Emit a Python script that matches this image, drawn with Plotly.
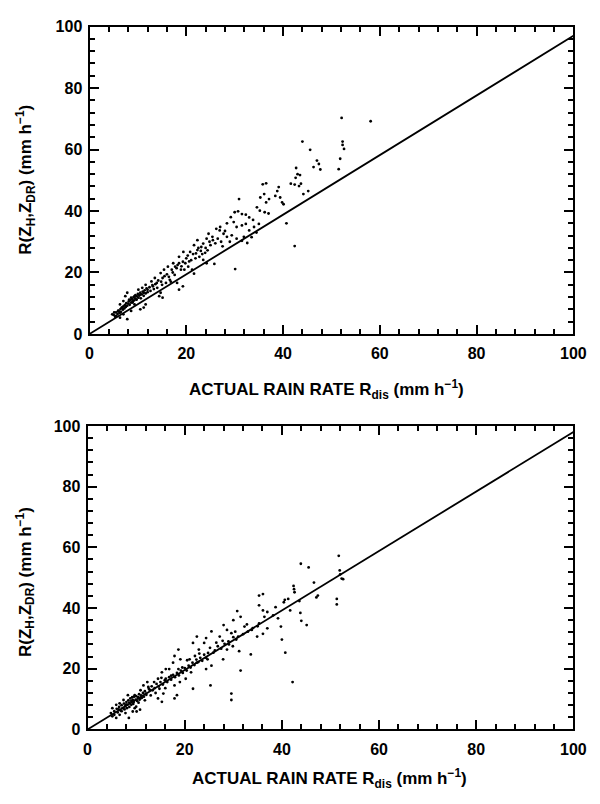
import plotly.graph_objects as go

# ---------------- data ----------------
TICK_START = 0
TICK_STEP = 20
MINOR_STEP = 4

LINE_X = [0, 100]
LINE_TOP_Y = [0, 97]
LINE_BOT_Y = [0, 98]

# Top panel scatter
TOP_X_LOW = [5.0, 5.3, 5.5, 5.8, 6.0, 6.2, 6.4, 6.5, 6.7, 6.9, 7.0, 7.2, 7.3, 7.5, 7.6, 7.8, 8.0, 8.1, 8.3, 8.4,
             8.6, 8.8, 8.9, 9.1, 9.2, 9.4, 9.5, 9.7, 9.8, 10.0, 10.1, 10.3, 10.5, 10.6, 10.8, 11.0, 11.2, 11.4, 11.6, 11.8,
             12.0, 6.3, 5.5, 7.0, 8.6, 7.8, 9.3, 10.5, 11.2, 11.6, 4.7, 5.1, 6.3, 5.9, 6.7, 6.3, 7.0, 8.9, 8.2, 7.4,
             7.8, 8.6, 9.7, 9.3, 10.5, 11.2, 12.0, 10.1, 10.9, 11.6]
TOP_Y_LOW = [6.2, 5.6, 7.0, 6.5, 7.6, 6.9, 8.1, 7.2, 8.6, 7.9, 9.0, 8.3, 9.4, 8.8, 10.0, 9.2, 9.9, 10.6, 9.5, 11.0,
             10.2, 11.4, 10.6, 12.0, 10.9, 11.6, 12.6, 11.2, 12.2, 13.0, 11.8, 12.5, 13.4, 11.6, 12.9, 13.8, 12.4, 14.2, 13.2, 14.8,
             13.6, 5.3, 5.9, 6.4, 7.5, 4.8, 9.6, 8.0, 8.6, 9.6, 6.4, 7.0, 7.0, 7.5, 8.6, 9.6, 10.7, 10.2, 11.2, 12.3,
             13.4, 11.8, 11.2, 12.3, 12.8, 13.4, 14.4, 14.4, 15.0, 16.0]

TOP_X_MID = [12.8, 13.1, 13.5, 13.9, 14.4, 14.7, 15.1, 14.7, 15.1, 15.4, 15.8, 16.2, 16.6, 17.0, 17.3, 17.7, 18.1, 18.5, 18.5, 18.5,
             18.9, 19.3, 19.3, 19.4, 19.6, 20.0, 20.4, 20.8, 21.2, 21.6, 21.6, 21.9, 22.3, 22.3, 22.7, 23.1, 23.5, 23.5, 23.9, 24.2,
             24.2, 24.6, 25.0, 25.4, 25.8, 13.0, 13.6, 14.2, 14.8, 15.5, 16.0, 16.4, 17.2, 17.6, 18.0, 18.2, 19.0, 19.8, 20.3, 20.6,
             21.0, 21.4, 22.0, 22.5, 23.0, 23.3, 24.0, 24.4, 24.8, 12.4, 12.6, 13.3, 14.0, 15.0, 16.8]
TOP_Y_MID = [17.1, 15.5, 18.2, 16.6, 12.3, 13.4, 11.8, 19.8, 18.2, 20.9, 16.6, 21.9, 17.6, 20.9, 23.0, 21.9, 16.6, 14.4, 23.0, 25.1,
             20.9, 15.5, 23.5, 26.7, 20.9, 24.6, 21.9, 26.7, 20.9, 19.6, 28.9, 24.6, 30.5, 27.3, 25.1, 28.3, 29.4, 24.1, 26.4, 31.0,
             23.0, 32.6, 28.9, 31.6, 22.8, 15.9, 16.2, 17.4, 17.0, 18.8, 19.4, 18.6, 20.0, 19.2, 21.4, 22.4, 22.0, 23.0, 25.5, 23.6,
             24.0, 26.0, 26.2, 28.0, 27.0, 26.0, 28.0, 27.2, 30.0, 15.2, 14.0, 14.6, 15.0, 16.0, 17.0]

TOP_X_HIGH = [26.2, 26.9, 27.7, 28.4, 29.4, 30.4, 31.5, 32.6, 31.9, 30.1, 29.2, 28.4, 29.8, 30.4, 31.5, 32.3, 33.0, 34.0, 35.0, 30.0,
              30.7, 31.5, 32.3, 33.0, 33.8, 30.9, 26.5, 27.2, 27.0, 28.0, 29.0, 33.5, 34.5, 26.0, 27.5, 25.5,
              36.1, 35.3, 37.1, 36.5, 34.6, 35.2, 36.2, 37.0, 35.8, 36.5, 39.1, 38.8, 38.4, 39.4, 39.8, 40.1, 40.7, 42.4, 41.6, 42.4,
              43.3, 43.7, 44.2, 45.2, 42.7, 43.0, 43.5, 42.6, 47.0, 47.4, 46.3, 47.7, 51.5, 51.8, 45.6, 52.3, 52.3, 52.6, 44.0, 52.1,
              58.1]
TOP_Y_HIGH = [34.2, 33.7, 32.6, 31.6, 32.1, 31.0, 30.3, 29.6, 31.6, 21.1, 38.0, 36.0, 36.4, 34.8, 35.3, 35.8, 33.7, 34.8, 35.8, 39.6,
              39.9, 39.0, 38.8, 37.9, 37.1, 43.9, 31.0, 30.0, 34.8, 33.5, 30.0, 31.5, 33.0, 29.5, 28.5, 30.5,
              45.5, 44.4, 43.9, 42.8, 41.2, 40.1, 39.6, 39.2, 48.7, 49.0, 47.8, 46.5, 44.9, 44.4, 42.8, 42.2, 36.0, 28.6, 48.9, 48.6,
              48.1, 48.9, 45.5, 46.5, 54.0, 52.0, 51.7, 50.8, 56.4, 55.3, 54.3, 53.5, 53.6, 57.0, 59.9, 62.6, 61.5, 60.2, 62.6, 70.3,
              69.2]

# Bottom panel scatter
BOT_X_LOW = [5.1, 5.9, 6.6, 7.4, 4.8, 5.5, 6.6, 5.9, 5.1, 7.8, 8.1, 8.5, 9.3, 10.0, 10.8, 12.3, 11.5, 12.6, 10.9, 12.0,
             9.7, 10.9, 9.3, 8.3, 9.0, 9.7, 10.1, 5.5, 6.0, 6.2, 6.5, 6.8, 7.0, 7.2, 7.5, 7.7, 8.0, 8.2, 8.4, 8.6,
             8.8, 9.0, 9.2, 9.5, 9.6, 9.9, 10.0, 10.2, 10.4, 10.6, 10.7, 11.0, 11.2, 11.4, 11.6, 11.8, 12.1, 7.0, 7.6, 8.6,
             9.4, 6.4, 7.9, 10.5, 11.8]
BOT_Y_LOW = [7.0, 8.1, 8.6, 9.7, 5.4, 4.8, 4.8, 3.8, 4.3, 5.4, 7.0, 3.8, 5.9, 7.5, 6.5, 15.6, 14.5, 13.4, 12.9, 11.8,
             11.3, 10.2, 9.7, 11.3, 8.1, 7.0, 5.9, 6.0, 6.8, 5.6, 7.4, 6.2, 8.0, 7.0, 8.5, 7.6, 9.0, 8.2, 9.6, 8.8,
             10.2, 9.4, 10.6, 9.0, 10.8, 9.8, 11.0, 9.4, 10.6, 11.6, 9.8, 11.2, 10.4, 12.0, 10.8, 12.6, 11.4, 6.0, 6.6, 7.4,
             8.4, 6.6, 8.2, 8.8, 9.6]

BOT_X_MID = [16.1, 15.3, 14.5, 13.7, 14.8, 13.4, 14.5, 15.3, 15.6, 18.7, 17.9, 19.1, 17.6, 18.7, 16.8, 17.2, 17.9, 16.1, 18.4, 17.9,
             22.5, 21.7, 22.9, 22.1, 21.0, 22.5, 21.3, 21.7, 20.2, 19.5, 25.5, 24.4, 24.0, 25.2, 25.9, 24.7, 25.5, 24.4, 25.3,
             12.8, 13.2, 13.8, 14.2, 14.6, 15.0, 15.5, 15.9, 16.4, 16.8, 17.2, 17.6, 18.0, 18.4, 18.8, 19.2, 19.6, 20.0, 20.4, 20.8,
             21.2, 21.6, 22.0, 22.4, 22.8, 23.2, 23.6, 24.0, 24.4, 24.8, 13.0, 14.0, 16.0, 19.0, 20.5, 23.0, 12.5, 15.2]
BOT_Y_MID = [19.9, 18.8, 16.7, 15.6, 13.4, 12.9, 10.2, 9.1, 11.8, 26.3, 24.2, 23.1, 22.0, 19.9, 19.9, 17.7, 14.5, 16.7, 11.3, 10.2,
             30.6, 28.5, 26.3, 24.2, 23.1, 22.0, 18.8, 13.4, 16.7, 20.4, 32.3, 30.1, 28.5, 26.9, 25.3, 23.1, 21.0, 19.9, 14.5,
             13.0, 14.2, 13.6, 15.0, 14.2, 15.6, 14.8, 16.2, 15.6, 17.2, 16.4, 18.0, 17.2, 18.6, 17.8, 19.4, 18.6, 20.2, 19.4, 21.0,
             20.4, 22.0, 21.2, 23.0, 22.2, 23.6, 22.6, 24.6, 23.6, 25.2, 11.2, 12.0, 13.6, 15.6, 22.8, 25.0, 14.0, 17.0]

BOT_X_HIGH = [28.0, 28.7, 29.6, 30.6, 29.1, 27.9, 28.7, 27.2, 29.9, 31.2, 30.8, 30.0, 31.5, 32.3, 33.8, 33.6, 31.5, 29.6, 29.6,
              36.1, 35.3, 35.3, 36.1, 37.0, 36.4, 35.3, 37.0, 36.1, 34.9, 38.7, 38.2, 39.2, 39.8, 40.0, 40.7,
              26.2, 26.8, 27.5, 28.2, 29.0, 30.0, 31.0, 32.0, 33.0, 34.0, 35.0, 26.5, 27.8, 30.4, 32.8,
              40.6, 41.3, 40.4, 41.7, 43.6, 43.8, 44.0, 45.1, 42.4, 42.5, 42.6, 46.6, 47.4, 47.1, 51.3, 51.3, 51.9, 52.0, 52.3, 52.6,
              43.9, 45.5, 51.7, 42.2]
BOT_Y_HIGH = [34.4, 32.8, 31.7, 29.6, 28.0, 23.1, 26.3, 30.6, 27.4, 25.8, 39.0, 36.0, 37.1, 33.9, 32.8, 24.7, 19.4, 11.8, 9.7,
              44.6, 44.1, 40.9, 39.2, 38.7, 37.1, 34.9, 33.3, 31.5, 30.6, 40.3, 37.6, 36.6, 33.9, 29.6, 25.3,
              26.0, 27.4, 26.6, 28.2, 29.0, 30.4, 30.6, 31.4, 32.2, 33.4, 34.0, 28.6, 29.2, 32.2, 34.6,
              42.7, 43.0, 41.9, 39.2, 42.3, 38.4, 35.8, 34.4, 47.3, 46.2, 45.2, 48.4, 44.1, 43.5, 43.0, 41.2, 52.4, 51.1, 49.7, 49.5,
              54.6, 53.4, 57.2, 15.6]

X_TITLE = "ACTUAL RAIN RATE R<sub>dis</sub> (mm h<sup>\u22121</sup>)"
Y_TITLE = "R(Z<sub>H</sub>,Z<sub>DR</sub>) (mm h<sup>\u22121</sup>)"

# ---------------- figure ----------------
W, H = 600, 804
FONT = "Liberation Sans, Arial, Helvetica, sans-serif"

fig = go.Figure()

top_x = TOP_X_LOW + TOP_X_MID + TOP_X_HIGH
top_y = TOP_Y_LOW + TOP_Y_MID + TOP_Y_HIGH
bot_x = BOT_X_LOW + BOT_X_MID + BOT_X_HIGH
bot_y = BOT_Y_LOW + BOT_Y_MID + BOT_Y_HIGH

mk = dict(color="black", size=2.8, line=dict(width=0))
fig.add_trace(go.Scatter(x=top_x, y=top_y, mode="markers", marker=mk, xaxis="x", yaxis="y", showlegend=False))
fig.add_trace(go.Scatter(x=LINE_X, y=LINE_TOP_Y, mode="lines", line=dict(color="black", width=1.8),
                         xaxis="x", yaxis="y", showlegend=False))
fig.add_trace(go.Scatter(x=bot_x, y=bot_y, mode="markers", marker=mk, xaxis="x2", yaxis="y2", showlegend=False))
fig.add_trace(go.Scatter(x=LINE_X, y=LINE_BOT_Y, mode="lines", line=dict(color="black", width=1.8),
                         xaxis="x2", yaxis="y2", showlegend=False))


def ax(domain, anchor, standoff):
    return dict(
        domain=domain, anchor=anchor, range=[0, 100],
        tickmode="linear", tick0=TICK_START, dtick=TICK_STEP,
        ticks="inside", ticklen=9, tickwidth=2, tickcolor="black",
        minor=dict(tick0=TICK_START, dtick=MINOR_STEP, ticks="inside", ticklen=5, tickwidth=1.5,
                   tickcolor="black", showgrid=False),
        showline=True, linecolor="black", linewidth=2, mirror="allticks",
        showgrid=False, zeroline=False,
        ticklabeloverflow="allow", ticklabelstandoff=standoff,
        tickfont=dict(family=FONT, size=16, color="black", weight="bold"),
        fixedrange=True,
    )


fig.update_layout(
    width=W, height=H,
    margin=dict(l=0, r=0, t=0, b=0),
    paper_bgcolor="white", plot_bgcolor="white",
    xaxis=ax([88 / W, 586 / W], "y", 4),
    yaxis=ax([1 - 333 / H, 1 - 19 / H], "x", 2),
    xaxis2=ax([86 / W, 586 / W], "y2", 4),
    yaxis2=ax([1 - 737 / H, 1 - 427 / H], "x2", 2),
)

xt_font = dict(family=FONT, size=17, color="black", weight="bold")
yt_font = dict(family=FONT, size=17, color="black", weight="bold")
fig.add_annotation(text=X_TITLE, x=332 / W, y=1 - 390 / H, xref="paper", yref="paper",
                   showarrow=False, font=xt_font, xanchor="center", yanchor="middle")
fig.add_annotation(text=X_TITLE, x=335 / W, y=1 - 787 / H, xref="paper", yref="paper",
                   showarrow=False, font=xt_font, xanchor="center", yanchor="middle")
fig.add_annotation(text=Y_TITLE, x=22 / W, y=1 - 175 / H, xref="paper", yref="paper", textangle=-90,
                   showarrow=False, font=yt_font, xanchor="center", yanchor="middle")
fig.add_annotation(text=Y_TITLE, x=22 / W, y=1 - 586 / H, xref="paper", yref="paper", textangle=-90,
                   showarrow=False, font=yt_font, xanchor="center", yanchor="middle")

fig.write_html("out.html")
